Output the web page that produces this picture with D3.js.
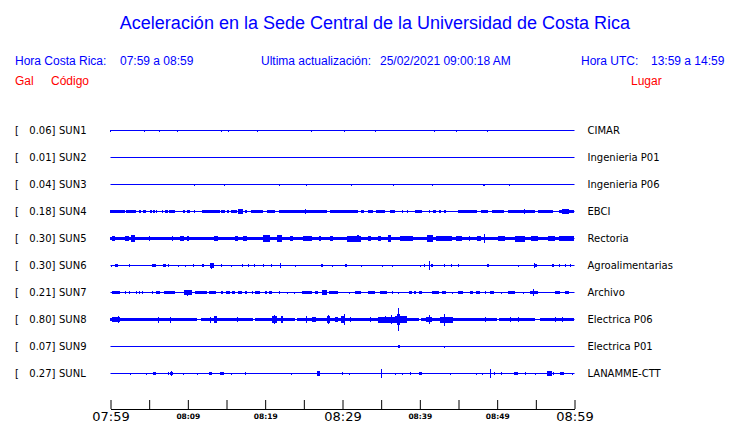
<!DOCTYPE html>
<html><head><meta charset="utf-8">
<script src="https://cdn.jsdelivr.net/npm/d3@7"></script>
<style>body{margin:0;background:#fff}svg{display:block}</style>
</head><body><svg id="c" width="740" height="423"></svg>
<script>
// ---- data ----
const titleText = "Aceleración en la Sede Central de la Universidad de Costa Rica";
const headerLabels = ["Hora Costa Rica:", "07:59 a 08:59", "Ultima actualización:", "25/02/2021 09:00:18 AM", "Hora UTC:", "13:59 a 14:59"];
const columnLabels = ["Gal", "Código", "Lugar"];
const codes  = ["SUN1","SUN2","SUN3","SUN4","SUN5","SUN6","SUN7","SUN8","SUN9","SUNL"];
const peaks  = [0.06, 0.01, 0.04, 0.18, 0.30, 0.30, 0.21, 0.80, 0.07, 0.27];
const places = ["CIMAR","Ingenieria P01","Ingenieria P06","EBCI","Rectoria","Agroalimentarias","Archivo","Electrica P06","Electrica P01","LANAMME-CTT"];
const tickMinutes = [0,5,10,15,20,25,30,35,40,45,50,55,60];
const tickLabels  = ["07:59","","08:09","","08:19","","08:29","","08:39","","08:49","","08:59"];
const majorLabels = ["07:59","08:29","08:59"];

// envelope segments per station: [start minute, end minute, amplitude (gal)]
const sun1 = [[0,0,.06],[4.4,4.4,.06],[6.4,6.4,.06],[8.7,8.7,.03],[14.3,14.3,.06],[15.2,15.2,.06],[19.0,19.0,.06],[26.0,26.0,.06],[30.3,30.3,.03],[34.3,34.3,.06],[41.9,41.9,.06],[44.7,44.7,.06],[48.8,48.8,.06]];
const sun2 = [];
const sun3 = [[10.8,10.8,.03],[14.8,14.8,.03],[21.8,21.8,.03],[25.3,25.3,.03],[31.2,31.2,.03],[36.6,36.6,.03],[41.7,41.7,.03],[48.2,48.5,.04],[51.6,51.6,.03]];
const sun4 = [[0,1.9,.1],[2.1,3.4,.13],[3.7,4.0,.1],[4.3,4.6,.1],[5.2,5.4,.08],[5.6,5.8,.08],[6.0,6.1,.08],[6.7,6.9,.08],[7.1,7.5,.1],[7.6,8.4,.1],[9.4,9.7,.1],[9.9,10.3,.1],[10.8,11.0,.08],[11.9,14.2,.1],[14.4,14.9,.1],[15.1,15.4,.1],[15.7,16.4,.1],[16.6,17.2,.18],[17.5,17.7,.1],[18.2,19.8,.1],[20.3,21.3,.1],[21.8,28.0,.1],[25.2,25.2,.14],[28.5,32.1,.1],[32.5,32.8,.1],[33.4,34.0,.1],[34.4,35.6,.1],[36.2,36.9,.1],[37.7,37.8,.08],[38.4,38.5,.08],[39.5,40.3,.1],[41.2,41.4,.08],[41.8,42.2,.08],[42.6,42.8,.08],[43.2,43.4,.08],[45.0,47.5,.1],[48.0,48.9,.1],[49.4,51.0,.1],[51.5,55.0,.1],[51.6,51.6,.13],[53.5,53.5,.18],[55.4,57.3,.1],[58.0,60,.1],[58.4,59.3,.16]];
const sun5 = [[0,60,.12],[0.2,0.6,.16],[1.9,2.4,.18],[2.7,3.2,.25],[5.0,5.0,.15],[8.0,8.0,.16],[9.0,9.6,.16],[10.0,10.2,.16],[13.4,14.0,.17],[16.2,16.6,.15],[17.2,17.7,.17],[19.8,20.7,.22],[21.6,22.2,.24],[23.3,23.7,.16],[25.0,26.1,.16],[27.0,27.3,.15],[28.5,28.9,.16],[30.6,32.5,.2],[32.0,32.2,.24],[33.4,33.8,.15],[34.7,35.1,.15],[36.0,36.4,.22],[37.5,39.2,.17],[41.0,41.8,.22],[42.2,44.2,.17],[44.8,45.5,.15],[46.4,46.6,.15],[47.5,48.0,.16],[48.4,48.4,.30],[50.2,51.1,.18],[52.4,53.7,.2],[54.5,55.4,.16],[56.7,57.5,.18],[58.0,60,.16]];
const sun6 = [[0.1,0.1,.06],[0.7,1.0,.1],[2.4,2.6,.1],[5.4,5.9,.12],[6.9,7.3,.12],[7.5,7.5,.07],[8.8,8.8,.06],[9.7,9.7,.06],[10.7,10.7,.08],[11.9,12.1,.1],[12.9,13.5,.14],[13.1,13.1,.2],[14.4,14.4,.08],[15.6,15.6,.05],[17.1,17.2,.08],[17.9,17.9,.08],[18.6,18.8,.12],[19.8,19.8,.07],[20.8,20.8,.08],[22.0,22.1,.15],[23.9,23.9,.05],[27.3,27.5,.1],[28.7,28.7,.05],[30.4,30.6,.1],[32.5,32.5,.05],[35.2,35.2,.05],[36.5,36.5,.05],[40.1,40.1,.05],[40.6,40.6,.08],[41.3,41.3,.3],[41.5,41.8,.1],[43.2,43.2,.07],[44.1,44.1,.07],[45.0,45.0,.08],[48.8,49.0,.1],[52.7,52.7,.05],[54.8,55.2,.13],[54.8,54.8,.18],[57.1,57.4,.1],[58.1,58.1,.07],[58.8,58.8,.07],[59.5,59.5,.08]];
const sun7 = [[0.2,1.3,.1],[2.0,2.0,.08],[2.5,2.5,.08],[3.3,3.4,.08],[3.7,3.9,.08],[4.1,4.3,.1],[5.4,5.6,.1],[5.9,6.5,.1],[7.0,8.4,.1],[9.6,10.6,.15],[10.0,10.0,.2],[11.0,12.5,.1],[12.8,13.7,.12],[14.4,14.6,.1],[15.0,15.5,.1],[15.8,16.2,.1],[16.5,17.1,.12],[17.5,17.7,.08],[18.3,18.5,.1],[18.8,19.4,.1],[20.0,20.3,.1],[20.6,20.9,.1],[21.8,21.8,.1],[22.9,22.9,.06],[23.8,23.8,.06],[24.8,26.1,.08],[26.5,26.9,.08],[27.4,28.0,.14],[28.3,29.5,.08],[30.9,30.9,.06],[31.7,32.5,.1],[33.4,34.3,.1],[34.9,35.8,.12],[36.5,36.5,.1],[37.3,37.3,.06],[38.7,39.0,.08],[39.3,39.6,.1],[39.9,40.3,.08],[41.7,42.5,.1],[42.9,43.5,.12],[44.2,44.2,.06],[45.0,45.6,.1],[46.6,46.9,.1],[47.3,47.8,.1],[48.5,48.5,.08],[49.1,49.6,.1],[50.6,50.6,.06],[51.5,52.4,.08],[53.4,53.4,.06],[54.3,55.4,.12],[54.7,54.7,.21],[57.6,58.2,.08],[58.8,59.3,.07]];
const sun8 = [[0,11.2,.12],[11.8,18.5,.12],[18.8,23.9,.12],[24.2,39.9,.12],[40.2,50.0,.12],[50.3,55.0,.12],[55.6,60,.12],[0.2,1.3,.17],[1.0,1.0,.22],[6.2,6.4,.2],[7.8,7.8,.2],[12.9,12.9,.2],[13.4,13.8,.22],[16.4,16.4,.18],[20.9,21.6,.25],[21.2,21.2,.3],[22.1,22.4,.22],[25.4,25.4,.24],[26.1,26.7,.18],[28.0,28.5,.25],[28.2,28.2,.3],[29.1,29.5,.17],[29.9,30.4,.22],[30.2,30.2,.37],[31.0,31.0,.15],[33.6,33.6,.15],[34.7,36.9,.2],[35.6,35.6,.25],[36.3,36.3,.27],[36.9,38.4,.22],[37.1,37.5,.35],[37.3,37.3,.78],[40.9,41.6,.18],[41.2,41.2,.33],[42.7,44.4,.2],[43.2,43.2,.4],[48.5,48.5,.15],[51.7,51.7,.16],[52.8,52.8,.15],[57.5,57.5,.17],[58.4,58.4,.16]];
const sun9 = [[37.2,37.5,.07],[43.2,43.2,.05]];
const sunL = [[2.6,2.6,.06],[4.7,4.7,.04],[5.6,6.0,.1],[7.5,7.5,.08],[7.7,8.2,.13],[7.9,7.9,.15],[9.5,9.5,.05],[11.2,11.2,.05],[12.8,13.2,.1],[14.2,14.8,.1],[15.6,15.6,.06],[17.4,17.4,.08],[23.4,23.4,.06],[26.8,27.1,.18],[30.0,30.0,.1],[30.9,30.9,.05],[35.0,35.1,.27],[36.8,36.8,.06],[37.7,37.7,.06],[38.8,38.8,.07],[39.9,40.3,.12],[44.0,44.0,.06],[47.3,47.3,.05],[48.1,48.1,.05],[49.1,49.1,.3],[49.6,49.6,.08],[50.6,50.6,.08],[52.3,52.7,.1],[53.6,53.6,.08],[55.0,55.0,.05],[56.5,57.1,.14],[57.3,57.3,.1],[58.2,58.7,.1],[59.7,59.7,.05]];
const traces = [sun1, sun2, sun3, sun4, sun5, sun6, sun7, sun8, sun9, sunL];

// ---- drawing ----
const svg = d3.select("#c");
const BLUE = "#0000ff", RED = "#ff0000";
const sans = "'Liberation Sans', Arial, sans-serif";
const dv = "'DejaVu Sans', sans-serif";

const t0 = new Date(2021, 1, 25, 7, 59);
const toDate = m => new Date(t0.getTime() + m * 60000);
const x = d3.scaleTime().domain([toDate(0), toDate(60)]).range([110.5, 574.5]);
const y = d3.scalePoint().domain(codes).range([130.5, 373.5]);
const amp = d3.scaleLinear().domain([0, 0.8]).range([0, 12]);

// title
svg.append("text").attr("x", 375).attr("y", 29).attr("text-anchor", "middle")
  .attr("font-family", sans).attr("font-size", 18).attr("fill", BLUE).text(titleText);

// header
const hx = [15, 120, 261, 380, 581, 651];
svg.selectAll("text.hdr").data(headerLabels).join("text").attr("class", "hdr")
  .attr("x", (d, i) => hx[i]).attr("y", 65)
  .attr("font-family", sans).attr("font-size", 12).attr("fill", BLUE).text(d => d);
const cx = [15, 51, 631];
svg.selectAll("text.col").data(columnLabels).join("text").attr("class", "col")
  .attr("x", (d, i) => cx[i]).attr("y", 85)
  .attr("font-family", sans).attr("font-size", 12).attr("fill", RED).text(d => d);

// station rows
const rows = svg.selectAll("g.row").data(codes).join("g").attr("class", "row")
  .attr("transform", d => `translate(0,${y(d)})`);
rows.append("text").attr("x", 15).attr("y", 3.5).attr("font-family", dv).attr("font-size", 10).attr("fill", "#000").text("[");
rows.append("text").attr("x", 55.5).attr("y", 3.5).attr("text-anchor", "end").attr("font-family", dv).attr("font-size", 10).attr("fill", "#000")
  .text((d, i) => peaks[i].toFixed(2) + "]");
rows.append("text").attr("x", 59).attr("y", 3.5).attr("font-family", dv).attr("font-size", 10).attr("fill", "#000").text(d => d);
rows.append("text").attr("x", 587.5).attr("y", 3.5).attr("font-family", dv).attr("font-size", 10).attr("fill", "#000")
  .text((d, i) => places[i]);
rows.append("line").attr("x1", x(toDate(0))).attr("x2", x(toDate(60))).attr("y1", 0).attr("y2", 0)
  .attr("stroke", BLUE).attr("stroke-width", 1);
rows.each(function (code, i) {
  d3.select(this).selectAll("rect").data(traces[i]).join("rect")
    .attr("x", d => x(toDate(d[0])) - 0.5)
    .attr("width", d => Math.max(1, x(toDate(d[1])) - x(toDate(d[0]))))
    .attr("y", d => -Math.max(1, amp(d[2])))
    .attr("height", d => 2 * Math.max(1, amp(d[2])))
    .attr("fill", BLUE).attr("shape-rendering", "crispEdges");
});

// time axis
const axis = d3.axisBottom(x)
  .tickValues(tickMinutes.map(toDate))
  .tickSizeInner(-9).tickSizeOuter(0).tickPadding(0)
  .tickFormat((d, i) => tickLabels[i]);
const gx = svg.append("g").attr("transform", "translate(0,409)").call(axis);
gx.select(".domain").attr("stroke", "#000");
gx.selectAll(".tick line").attr("stroke", "#000");
gx.selectAll(".tick text")
  .attr("fill", "#000").attr("font-family", dv).attr("dy", null)
  .attr("font-size", function () { return majorLabels.includes(this.textContent) ? 13 : 7.5; })
  .attr("font-weight", function () { return majorLabels.includes(this.textContent) ? "normal" : "bold"; })
  .attr("y", function () { return majorLabels.includes(this.textContent) ? 12 : 9.5; });
</script></body></html>
